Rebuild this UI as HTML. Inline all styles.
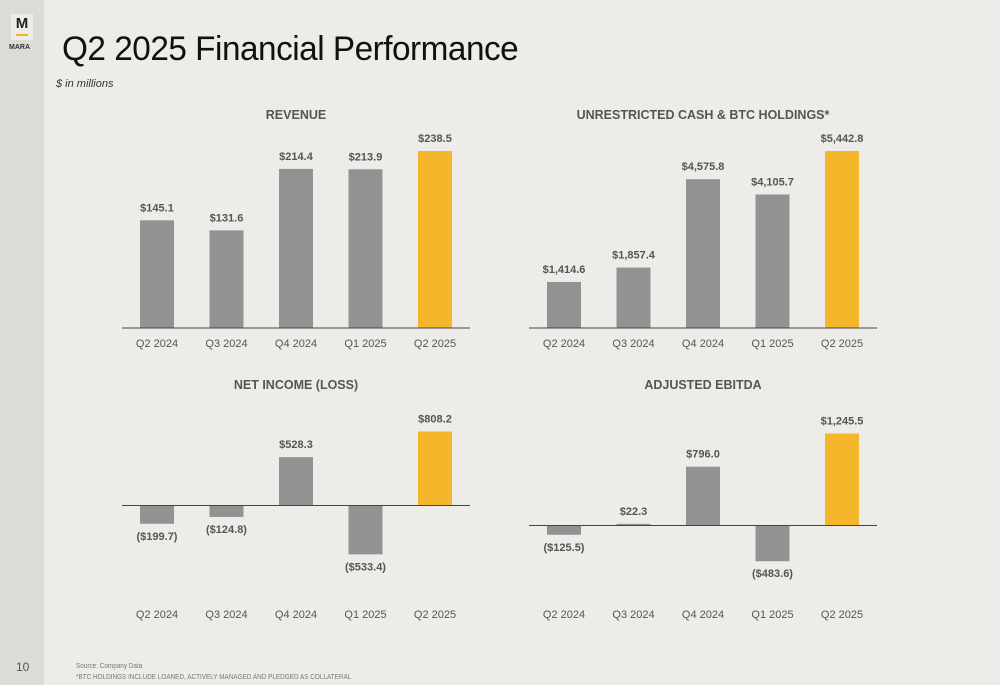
<!DOCTYPE html>
<html><head><meta charset="utf-8"><style>
body{margin:0;width:1000px;height:685px;background:#edece8;font-family:"Liberation Sans",sans-serif;position:relative;overflow:hidden}
#side{position:absolute;left:0;top:0;width:44px;height:685px;background:#dcdbd7}
#logo{position:absolute;left:11px;top:14px;width:22px;height:26px;background:#edece8;text-align:center;font-weight:bold;font-size:15px;line-height:20px;color:#222}
#logo i{position:absolute;left:5px;top:20px;width:12px;height:2px;background:#f0b323}
#mara{position:absolute;left:9px;top:44px;font-size:7px;font-weight:bold;color:#333}
h1{position:absolute;left:62px;top:30px;margin:0;font-weight:normal;font-size:34px;color:#111;letter-spacing:-0.5px;transform:scaleX(0.98);transform-origin:0 0}
#sub{position:absolute;left:56px;top:78px;font-size:11px;font-style:italic;color:#333}
#pg{position:absolute;left:16px;top:660px;font-size:12px;color:#555}
#src{position:absolute;left:76px;top:660px;font-size:7.5px;color:#777;line-height:11px;transform:scaleX(0.85);transform-origin:0 0;white-space:nowrap}
svg{position:absolute;left:0;top:0}
</style></head><body>
<div id="side"></div>
<div id="logo">M<i></i></div>
<div id="mara">MARA</div>
<h1>Q2 2025 Financial Performance</h1>
<div id="sub">$ in millions</div>
<div id="pg">10</div>
<div id="src">Source: Company Data<br>*BTC HOLDINGS INCLUDE LOANED, ACTIVELY MANAGED AND PLEDGED AS COLLATERAL</div>
<svg id="chart" width="1000" height="685"></svg>
<script>
const categories=["Q2 2024","Q3 2024","Q4 2024","Q1 2025","Q2 2025"];
const revenue=[145.1,131.6,214.4,213.9,238.5];
const cashBtc=[1414.6,1857.4,4575.8,4105.7,5442.8];
const netIncome=[-199.7,-124.8,528.3,-533.4,808.2];
const ebitda=[-125.5,22.3,796.0,-483.6,1245.5];
const titles=["REVENUE","UNRESTRICTED CASH & BTC HOLDINGS*","NET INCOME (LOSS)","ADJUSTED EBITDA"];
const NS="http://www.w3.org/2000/svg";
const svg=document.getElementById('chart');
function mk(t,a){const e=document.createElementNS(NS,t);for(const k in a)e.setAttribute(k,a[k]);svg.appendChild(e);return e;}
function fmt(v){const s='$'+Math.abs(v).toLocaleString('en-US',{minimumFractionDigits:1,maximumFractionDigits:1});return v<0?'('+s+')':s;}
function chart(vals,title,x0,base,maxPx,xLabY,titleY){
  const maxV=Math.max(...vals);
  const y=v=>base-v/maxV*maxPx;
  const step=69.5, w=34;
  const t=mk('text',{x:x0+174,y:titleY,'text-anchor':'middle','font-size':12.5,'font-weight':'bold',fill:'#555'});
  t.textContent=title;
  
  
  vals.forEach((v,i)=>{
    const cx=x0+35+i*step;
    const top=Math.min(y(v),base),h=Math.abs(y(v)-base);
    const r=mk('rect',{x:cx-w/2,y:top,width:w,height:Math.max(h,1),fill:i==4?'#f4b62a':'#929292'});
    
    
    const l=mk('text',{x:cx,y:v>=0?top-9:top+h+16,'text-anchor':'middle','font-size':11,'font-weight':'bold',fill:'#555'});
    l.textContent=fmt(v);
    
    
    const c=mk('text',{x:cx,y:xLabY,'text-anchor':'middle','font-size':11,fill:'#555'});
    c.textContent=categories[i];
    
    
  });
  const ax=mk('line',{x1:x0,x2:x0+348,y1:base,y2:base,stroke:'#444','stroke-width':1});
  
  
}
chart(revenue,titles[0],122,328,177,347,119);
chart(cashBtc,titles[1],529,328,177,347,119);
chart(netIncome,titles[2],122,505.5,74,618,389);
chart(ebitda,titles[3],529,525.5,92,618,389);
</script>
</body></html>
